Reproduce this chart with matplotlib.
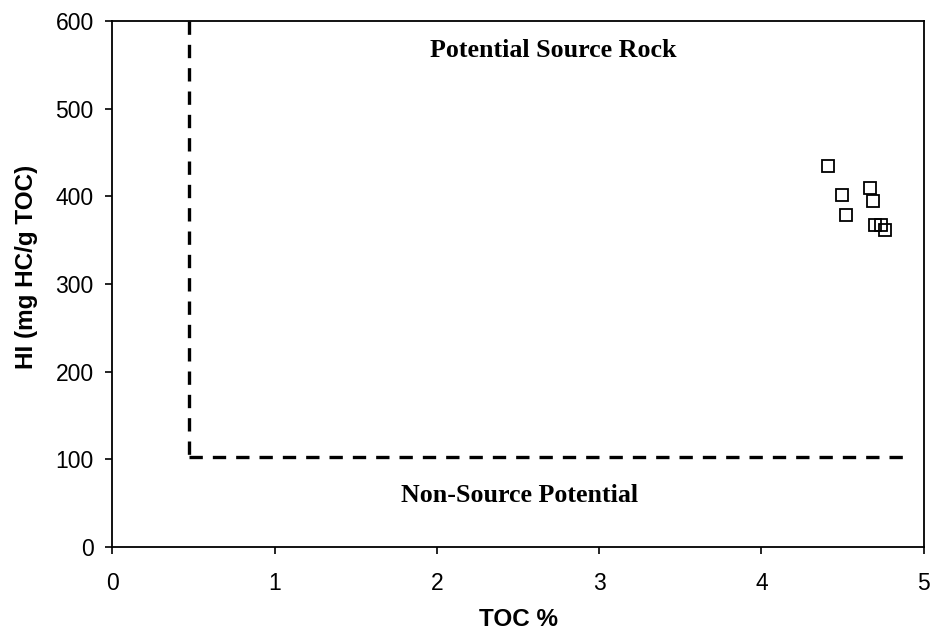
import matplotlib
matplotlib.use("Agg")
import matplotlib.pyplot as plt

toc = [4.41, 4.67, 4.50, 4.69, 4.52, 4.70, 4.74, 4.76]
hi = [435, 410, 402, 395, 379, 367, 367, 362]

x_ticks = [0, 1, 2, 3, 4, 5]
y_ticks = [0, 100, 200, 300, 400, 500, 600]

toc_cut = 0.47
hi_cut = 103
x_end = 4.92

fig = plt.figure(figsize=(9.31, 6.34), dpi=100)
ax = fig.add_axes([0.1208, 0.1372, 0.8712, 0.8298])

dash = (0, (4.0, 3.0))
ax.plot([toc_cut, toc_cut], [600, hi_cut], color='black', lw=2.4, ls=dash)
ax.plot([toc_cut, x_end], [hi_cut, hi_cut], color='black', lw=2.4, ls=dash)

ax.plot(toc, hi, ls='none', marker='s', markersize=9, markerfacecolor='none',
        markeredgecolor='black', markeredgewidth=1.3)

ax.text(2.72, 559, 'Potential Source Rock', family='Liberation Serif', fontweight='bold',
        fontsize=18.7, ha='center', va='baseline')
ax.text(2.51, 51, 'Non-Source Potential', family='Liberation Serif', fontweight='bold',
        fontsize=18.7, ha='center', va='baseline')

ax.set_xlim(0, 5)
ax.set_ylim(0, 600)
ax.set_xticks(x_ticks)
ax.set_yticks(y_ticks)
ax.tick_params(direction='out', length=5, width=1.2, labelsize=16.5)
ax.tick_params(axis='x', pad=13)
ax.tick_params(axis='y', pad=8.5)
for lab in ax.get_xticklabels() + ax.get_yticklabels():
    lab.set_family('Liberation Sans')
for s in ax.spines.values():
    s.set_linewidth(1.3)

ax.set_xlabel('TOC %', family='Liberation Sans', fontweight='bold', fontsize=17.5)
ax.set_ylabel('HI (mg HC/g TOC)', family='Liberation Sans', fontweight='bold', fontsize=17.5)
ax.xaxis.set_label_coords(0.5, -0.115)
ax.yaxis.set_label_coords(-0.092, 0.532)

fig.savefig('out.png', dpi=100)
